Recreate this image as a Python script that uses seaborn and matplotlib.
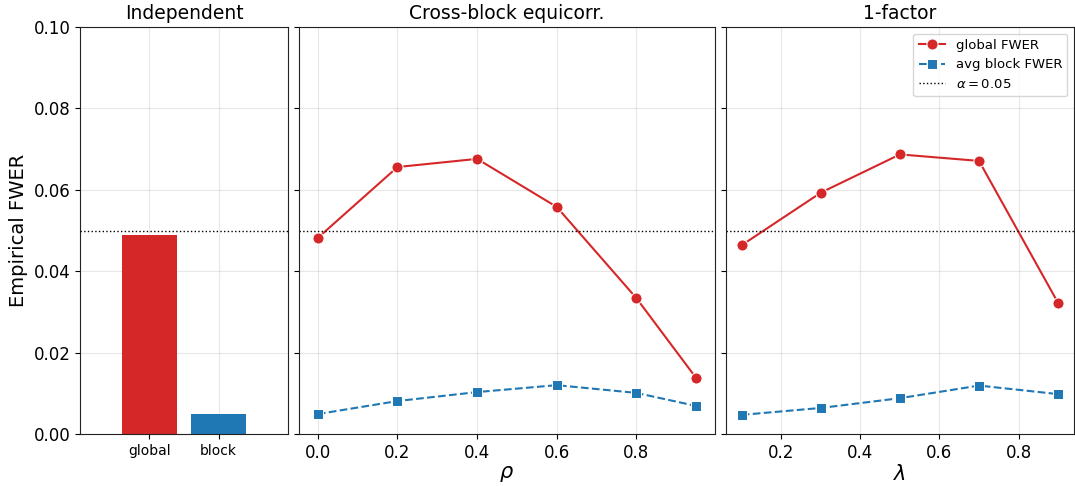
import matplotlib
matplotlib.use("Agg")
import matplotlib.pyplot as plt
import seaborn as sns
import pandas as pd

# Independent design: FWER for the global test and the average block test
indep_labels = ["global", "block"]
indep_fwer = [0.0488, 0.0049]

# Cross-block equicorrelation sweep over rho
rho = [0.0, 0.2, 0.4, 0.6, 0.8, 0.95]
rho_global = [0.0482, 0.0656, 0.0676, 0.0558, 0.0334, 0.0138]
rho_block = [0.0049, 0.0081, 0.0103, 0.0120, 0.0101, 0.0069]

# One-factor model sweep over lambda
lam = [0.1, 0.3, 0.5, 0.7, 0.9]
lam_global = [0.0464, 0.0593, 0.0687, 0.0671, 0.0322]
lam_block = [0.0047, 0.0064, 0.0088, 0.0119, 0.0098]

alpha = 0.05
RED = "#d62728"
BLUE = "#1f77b4"

plt.rcParams["font.family"] = ["DejaVu Sans"]
plt.rcParams["axes.edgecolor"] = "#222222"

fig, axes = plt.subplots(
    1, 3, figsize=(10.75, 4.86), dpi=100, sharey=True,
    gridspec_kw={"width_ratios": [208, 416, 348]},
)
fig.subplots_adjust(left=0.0744, right=0.999, top=0.9444, bottom=0.107, wspace=0.034)

# Panel 1: bars
ax = axes[0]
df_ind = pd.DataFrame({"test": indep_labels, "fwer": indep_fwer})
sns.barplot(data=df_ind, x="test", y="fwer", hue="test",
            palette=[RED, BLUE], saturation=1, width=0.8, legend=False, ax=ax)
ax.set_xlim(-1, 2)
ax.set_title("Independent", fontsize=13.5)
ax.set_xlabel("")
ax.set_ylabel("Empirical FWER", fontsize=14)
ax.tick_params(axis="x", labelsize=10)

# Panel 2 and 3: line sweeps
for ax, xs, g, b, title, xl in [
    (axes[1], rho, rho_global, rho_block, "Cross-block equicorr.", r"$\rho$"),
    (axes[2], lam, lam_global, lam_block, "1-factor", r"$\lambda$"),
]:
    sns.lineplot(x=xs, y=g, marker="o", color=RED, lw=1.5, markersize=8,
                 label="global FWER", ax=ax)
    sns.lineplot(x=xs, y=b, marker="s", color=BLUE, lw=1.5, markersize=7,
                 linestyle="--", label="avg block FWER", ax=ax)
    ax.set_title(title, fontsize=13.5)
    ax.set_xlabel(xl, fontsize=15, labelpad=2)
    ax.tick_params(axis="x", labelsize=12)
    if ax.get_legend() is not None:
        ax.get_legend().remove()

for ax in axes:
    ax.axhline(alpha, color="black", linestyle=":", lw=1,
               label=r"$\alpha=0.05$" if ax is axes[2] else None)
    ax.grid(True, alpha=0.3)
    ax.set_axisbelow(True)
    ax.tick_params(axis="y", labelsize=12)

axes[0].set_ylim(0, 0.10)
axes[0].set_yticks([0.0, 0.02, 0.04, 0.06, 0.08, 0.10])
axes[0].set_yticklabels(["0.00", "0.02", "0.04", "0.06", "0.08", "0.10"])

axes[2].legend(loc="upper right", fontsize=9.5, framealpha=0.8)

fig.savefig("out.png", dpi=100)
